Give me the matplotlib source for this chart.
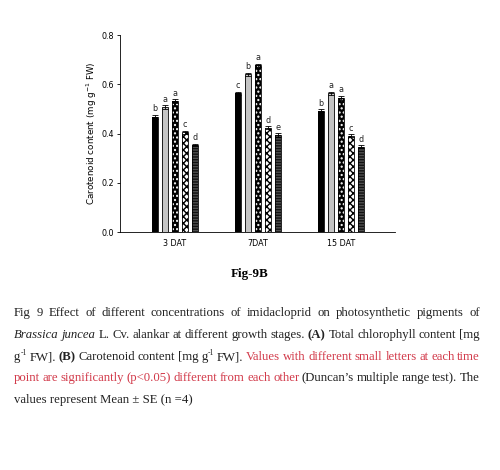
import matplotlib
matplotlib.use("Agg")
import matplotlib.pyplot as plt
import numpy as np

# ---- data ----
groups = ["3 DAT", "7DAT", "15 DAT"]
treat1 = [0.469, 0.563, 0.493]
treat2 = [0.507, 0.640, 0.563]
treat3 = [0.532, 0.677, 0.545]
treat4 = [0.405, 0.424, 0.392]
treat5 = [0.354, 0.395, 0.347]
err1 = [0.008, 0.007, 0.006]
err2 = [0.008, 0.006, 0.007]
err3 = [0.007, 0.007, 0.009]
err4 = [0.006, 0.005, 0.006]
err5 = [0.005, 0.007, 0.006]
letters1 = ["b", "c", "b"]
letters2 = ["a", "b", "a"]
letters3 = ["a", "a", "a"]
letters4 = ["c", "d", "c"]
letters5 = ["d", "e", "d"]
yticks = [0.0, 0.2, 0.4, 0.6, 0.8]

series = [treat1, treat2, treat3, treat4, treat5]
errs = [err1, err2, err3, err4, err5]
letters = [letters1, letters2, letters3, letters4, letters5]
styles = [
    dict(face="black", hatch=None, hc="black"),
    dict(face="#c4c4c4", hatch=None, hc="black"),
    dict(face="black", hatch="....", hc="white"),
    dict(face="white", hatch="xxxxx", hc="black"),
    dict(face="#505050", hatch="------", hc="#111111"),
]

fig = plt.figure(figsize=(5.0, 4.7), dpi=100)
ax = fig.add_axes([0.24, 0.506, 0.55, 0.4195])

x = np.arange(len(groups))
pitch = 0.12
width = 0.075
for i, (vals, e, lt, st) in enumerate(zip(series, errs, letters, styles)):
    xs = x + (i - 2) * pitch
    ax.bar(xs, vals, width=width, color=st["face"], edgecolor=st["hc"],
           hatch=st["hatch"], linewidth=0, zorder=2)
    ax.bar(xs, vals, width=width, fill=False, edgecolor="black",
           linewidth=0.6, zorder=3)
    ax.errorbar(xs, vals, yerr=e, fmt="none", ecolor="black",
                elinewidth=0.6, capsize=2.2, capthick=0.6, zorder=4)
    for xi, v, ee, l in zip(xs, vals, e, lt):
        ax.text(xi, v + ee + 0.006, l, ha="center", va="bottom",
                fontsize=5.8, family="DejaVu Sans", color="#222222")

ax.set_xlim(-0.66, 2.65)
ax.set_ylim(0, 0.8)
ax.set_yticks(yticks)
ax.set_yticklabels([f"{t:.1f}" for t in yticks])
ax.set_xticks(x)
ax.set_xticklabels(groups)
ax.tick_params(axis="x", length=0, labelsize=5.8, pad=5)
ax.tick_params(axis="y", direction="out", length=2.5, width=0.6, labelsize=5.8, pad=2)
for s in ["top", "right"]:
    ax.spines[s].set_visible(False)
for s in ["left", "bottom"]:
    ax.spines[s].set_linewidth(0.6)
ax.set_ylabel("Carotenoid content (mg g$^{-1}$ FW)", fontsize=6.3, labelpad=1.5)

# ---- captions ----
fig.text(0.5, 1 - 274 / 470, "Fig-9B", ha="center", va="center",
         family="Liberation Serif", fontweight="bold", fontsize=9.4)

RED = "#d23a4a"
BLK = "#222222"
FS = 9.2
base = dict(family="Liberation Serif", fontsize=FS)

def W(text, color=BLK, style="normal", weight="normal", sup=False):
    return (text, color, style, weight, sup)

lines = [
    [[W(w)] for w in "Fig 9 Effect of different concentrations of imidacloprid on photosynthetic pigments of".split()],
    [[W("Brassica", style="italic")], [W("juncea", style="italic")]]
    + [[W(w)] for w in "L. Cv. alankar at different growth stages.".split()]
    + [[W("(A)", weight="bold")]]
    + [[W(w)] for w in "Total chlorophyll content [mg".split()],
    [[W("g"), W("-1", sup=True)], [W("FW].")], [W("(B)", weight="bold")]]
    + [[W(w)] for w in "Carotenoid content [mg".split()]
    + [[W("g"), W("-1", sup=True)], [W("FW].")]]
    + [[W(w, color=RED)] for w in "Values with different small letters at each time".split()],
    [[W(w, color=RED)] for w in "point are significantly (p<0.05) different from each other".split()]
    + [[W(w)] for w in "(Duncan\u2019s multiple range test). The".split()],
    [[W("values represent Mean \u00b1 SE (n =4)")]],
]
line_y = [312, 334, 356, 377, 399]
justify = [True, True, True, True, False]
x_left, x_right = 14, 480

fig.canvas.draw()
renderer = fig.canvas.get_renderer()
for words, ypx, just in zip(lines, line_y, justify):
    word_items = []
    for word in words:
        pieces = []
        for (t, c, stl, wt, sup) in word:
            if sup:
                txt = fig.text(0, 0, t, family="Liberation Serif", fontsize=FS * 0.6,
                               color=c, ha="left", va="baseline")
            else:
                txt = fig.text(0, 0, t, color=c, style=stl, weight=wt,
                               ha="left", va="baseline", **base)
            pieces.append((txt, sup))
        word_items.append(pieces)
    fig.canvas.draw()
    widths = []
    for pieces in word_items:
        ws = [p.get_window_extent(renderer).width for p, _ in pieces]
        widths.append(ws)
    total = sum(sum(ws) for ws in widths)
    n = len(word_items)
    if just and n > 1:
        gap = max((x_right - x_left - total) / (n - 1), 1.5)
    else:
        gap = 0
    cur = x_left
    yb = 1 - (ypx + 4) / 470
    for pieces, ws in zip(word_items, widths):
        for (p, sup), w in zip(pieces, ws):
            dy = 4.6 / 470 if sup else 0
            p.set_position((cur / 500, yb + dy))
            cur += w
        cur += gap

fig.savefig("out.png", dpi=100)
